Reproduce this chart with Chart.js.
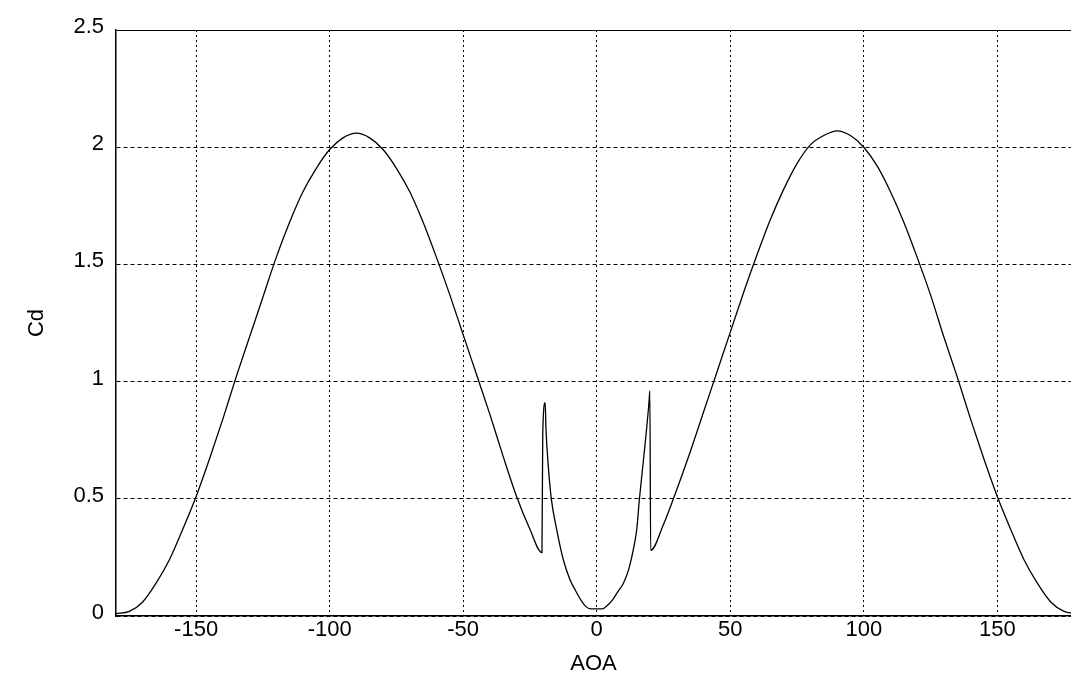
<!DOCTYPE html>
<html>
<head>
<meta charset="utf-8">
<script src="https://cdn.jsdelivr.net/npm/chart.js@4/dist/chart.umd.min.js"></script>
<style>
  html, body { margin: 0; padding: 0; background: #fff; }
  #wrap { width: 1071px; height: 681px; }
</style>
</head>
<body>
<div id="wrap"><canvas id="plot" width="1071" height="681"></canvas></div>
<script>
// Cd vs angle of attack
const AOA = [
  -180, -175, -170, -165, -160, -155, -150, -145, -140, -135, -130, -125, -120,
  -115, -110, -105, -100, -95, -90, -85, -80, -75, -70, -65, -60, -55, -50,
  -45, -40, -35, -30, -25, -20.5,
  -20.2, -19.3, -19, -18, -17, -15, -12.5, -10, -8, -6, -4, -2, 0,
  2, 4, 6, 8, 10, 12, 14, 15, 16, 18, 19.5, 19.9, 20.2,
  25, 30, 35, 40, 45, 50, 55, 60, 65, 70, 75, 80, 85, 90,
  95, 100, 105, 110, 115, 120, 125, 130, 135, 140, 145, 150, 155, 160,
  165, 170, 175, 180
];
const CD = [
  0.01, 0.02, 0.06, 0.14, 0.24, 0.37, 0.51, 0.67, 0.84, 1.02, 1.19, 1.36, 1.53,
  1.68, 1.81, 1.91, 1.99, 2.04, 2.06, 2.04, 1.99, 1.91, 1.81, 1.68, 1.53, 1.37, 1.20,
  1.03, 0.86, 0.68, 0.51, 0.37, 0.27,
  0.78, 0.91, 0.80, 0.62, 0.50, 0.37, 0.24, 0.155, 0.11, 0.07, 0.04, 0.03, 0.03,
  0.03, 0.045, 0.07, 0.105, 0.14, 0.20, 0.30, 0.37, 0.50, 0.72, 0.90, 0.96, 0.28,
  0.39, 0.54, 0.70, 0.87, 1.04, 1.21, 1.38, 1.54, 1.69, 1.82, 1.93, 2.01, 2.05, 2.07,
  2.05, 2.00, 1.92, 1.81, 1.68, 1.53, 1.37, 1.19, 1.02, 0.84, 0.67, 0.51, 0.37, 0.24,
  0.14, 0.06, 0.02, 0.01
];
const X_TICKS = [-150, -100, -50, 0, 50, 100, 150];
const Y_TICKS = [0, 0.5, 1, 1.5, 2, 2.5];

const FONT = { family: '"Liberation Sans", Arial, sans-serif', size: 22 };

const points = AOA.map((a, i) => ({ x: a, y: CD[i] }));

new Chart(document.getElementById('plot'), {
  type: 'scatter',
  data: {
    datasets: [{
      data: points,
      showLine: true,
      borderColor: '#000',
      borderWidth: 1.3,
      pointRadius: 0,
      cubicInterpolationMode: 'monotone'
    }]
  },
  options: {
    responsive: false,
    animation: false,
    layout: { padding: { top: 30, left: 0, right: 0, bottom: 0 } },
    plugins: { legend: { display: false }, tooltip: { enabled: false } },
    scales: {
      x: {
        type: 'linear',
        min: -180,
        max: 177.6,
        afterBuildTicks: s => { s.ticks = X_TICKS.map(v => ({ value: v })); },
        afterFit: s => { s.height = 65; },
        grid: { color: '#000', lineWidth: 1, drawTicks: false },
        border: { display: true, color: '#000', width: 1.5, dash: [2, 3] },
        ticks: { color: '#000', font: FONT, padding: 1, maxRotation: 0, callback: v => String(v) },
        title: { display: true, text: 'AOA', color: '#000', font: FONT, padding: { top: 0, bottom: 4 } }
      },
      y: {
        type: 'linear',
        min: 0,
        max: 2.5,
        afterBuildTicks: s => { s.ticks = Y_TICKS.map(v => ({ value: v })); },
        afterFit: s => { s.width = 116; },
        grid: { color: '#000', lineWidth: 1, drawTicks: false },
        border: {
          display: true, color: '#000', width: 1.5,
          // top edge is a solid frame line, the rest are dashed grid lines
          dash: ctx => (ctx.tick && ctx.tick.value === 2.5) ? [] : [4, 3]
        },
        ticks: { color: '#000', font: FONT, padding: 12, labelOffset: -3, callback: v => String(v) },
        title: { display: true, text: 'Cd', color: '#000', font: FONT, padding: { top: 24, bottom: 0 } }
      }
    }
  }
});
</script>
</body>
</html>
